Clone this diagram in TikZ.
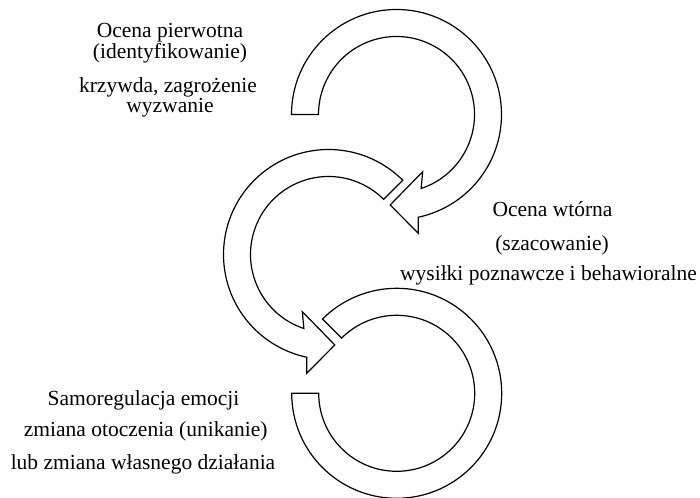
\documentclass[tikz,border=0pt]{standalone}
\usepackage{fontspec}
\setmainfont{Liberation Serif}
\begin{document}
\begin{tikzpicture}[x=1pt,y=1pt,
  band/.style={draw=black, line width=1.2pt, fill=white, line join=miter},
  label/.style={anchor=base, inner sep=0pt, font=\fontsize{21.5}{24}\selectfont}]
\useasboundingbox (0,0) rectangle (700,497);

% upper circular arrow: starts on the left, runs clockwise, head at the bottom
\begin{scope}[shift={(396.5,382.5)}]
  \draw[band] (180:105pt) arc[start angle=180, end angle=-78, radius=105pt]
    -- (-79.6:120.8pt) -- (-94:90.7pt) -- (-65.4:62.9pt) -- (-71.6:78pt)
    arc[start angle=-71.6, end angle=180, radius=78pt] -- cycle;
\end{scope}

% middle circular arrow: starts upper right, runs anticlockwise, head at the bottom
\begin{scope}[shift={(328.5,242.5)}]
  \draw[band] (45:105pt) arc[start angle=45, end angle=258, radius=105pt]
    -- (259.6:120.8pt) -- (274:90.7pt) -- (245.4:62.9pt) -- (251.6:78pt)
    arc[start angle=251.6, end angle=45, radius=78pt] -- cycle;
\end{scope}

% lower open ring
\begin{scope}[shift={(396.7,103.7)}]
  \draw[band] (180:105pt) arc[start angle=180, end angle=495, radius=105pt]
    -- (135:78pt) arc[start angle=495, end angle=180, radius=78pt] -- cycle;
\end{scope}

% primary appraisal
\node[label] (p1) at (170,459.3) {Ocena pierwotna};
\node[label] (p2) at (170,438) {(identyfikowanie)};
\node[label] (p3) at (168,404.3) {krzywda, zagrożenie};
\node[label] (p4) at (170,384) {wyzwanie};

% secondary appraisal
\node[label] (s1) at (552.5,280) {Ocena wtórna};
\node[label] (s2) at (552,246) {(szacowanie)};
\node[label] (s3) at (548.5,216.3) {wysiłki poznawcze i behawioralne};

% self-regulation
\node[label] (r1) at (143.5,91) {Samoregulacja emocji};
\node[label] (r2) at (145.7,60.3) {zmiana otoczenia (unikanie)};
\node[label] (r3) at (143,27.7) {lub zmiana własnego działania};
\end{tikzpicture}
\end{document}
